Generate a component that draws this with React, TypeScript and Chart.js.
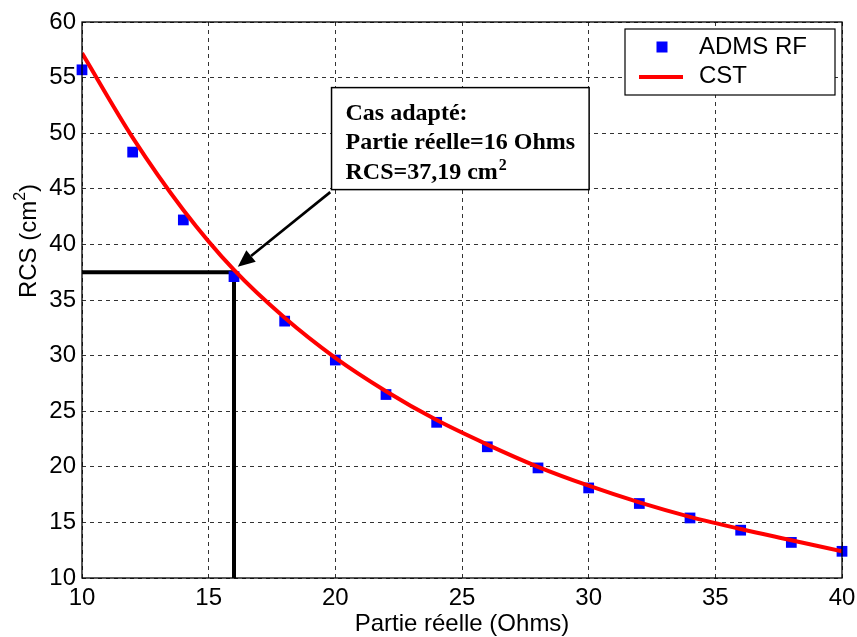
import React, { useEffect, useRef } from "react";
import { Chart, registerables } from "chart.js";

Chart.register(...registerables);

// ---- data ----
const partieReelle = [10, 12, 14, 16, 18, 20, 22, 24, 26, 28, 30, 32, 34, 36, 38, 40];
const admsRF = [55.7, 48.3, 42.2, 37.1, 33.1, 29.6, 26.5, 24.0, 21.8, 19.9, 18.1, 16.7, 15.4, 14.3, 13.2, 12.4];
const cst = [57.2, 49.6, 43.1, 37.7, 33.4, 29.8, 26.8, 24.2, 22.0, 20.0, 18.3, 16.8, 15.5, 14.4, 13.4, 12.4];
const seriesLabels = ["ADMS RF", "CST"];
const xTitle = "Partie réelle (Ohms)";
const yTitleMain = "RCS (cm";
const yTitleSup = "2";
const yTitleEnd = ")";
const xMin = 10, xMax = 40, xStep = 5;
const yMin = 10, yMax = 60, yStep = 5;
// matched case guide lines
const matchedX = 16;
const matchedY = 37.5;
// annotation
const noteLines = ["Cas adapté:", "Partie réelle=16 Ohms", "RCS=37,19 cm"];
const noteSup = "2";
const noteAnchor = { x: 19.85, y: 54.1 };
const arrowFrom = { x: 19.8, y: 44.7 };
const arrowTo = { x: 16.15, y: 38.0 };

const SANS = "'Liberation Sans', Arial, Helvetica, sans-serif";
const SERIF = "'Liberation Serif', 'Times New Roman', serif";

const decorPlugin = {
  id: "decor",
  afterDatasetsDraw(chart: any) {
    const ctx = chart.ctx as CanvasRenderingContext2D;
    const { left, right, top, bottom } = chart.chartArea;
    const xs = chart.scales.x;
    const ys = chart.scales.y;

    // frame
    ctx.save();
    ctx.strokeStyle = "#000";
    ctx.lineWidth = 1.3;
    ctx.setLineDash([]);
    ctx.strokeRect(left, top, right - left, bottom - top);
    ctx.restore();

    // arrow
    const ax0 = xs.getPixelForValue(arrowFrom.x), ay0 = ys.getPixelForValue(arrowFrom.y);
    const ax1 = xs.getPixelForValue(arrowTo.x), ay1 = ys.getPixelForValue(arrowTo.y);
    const ang = Math.atan2(ay1 - ay0, ax1 - ax0);
    const headLen = 17, headW = 7.5;
    const bx = ax1 - headLen * Math.cos(ang), by = ay1 - headLen * Math.sin(ang);
    ctx.save();
    ctx.strokeStyle = "#000";
    ctx.fillStyle = "#000";
    ctx.lineWidth = 2.6;
    ctx.beginPath();
    ctx.moveTo(ax0, ay0);
    ctx.lineTo(bx, by);
    ctx.stroke();
    ctx.beginPath();
    ctx.moveTo(ax1, ay1);
    ctx.lineTo(bx + headW * Math.sin(ang), by - headW * Math.cos(ang));
    ctx.lineTo(bx - headW * Math.sin(ang), by + headW * Math.cos(ang));
    ctx.closePath();
    ctx.fill();
    ctx.restore();

    // annotation box
    const bxl = xs.getPixelForValue(noteAnchor.x);
    const byt = ys.getPixelForValue(noteAnchor.y);
    ctx.save();
    ctx.font = `bold 24px ${SERIF}`;
    const widest = Math.max(...noteLines.map((l) => ctx.measureText(l).width));
    const boxW = widest + 28;
    const boxH = 102;
    ctx.fillStyle = "#fff";
    ctx.fillRect(bxl, byt, boxW, boxH);
    ctx.strokeStyle = "#000";
    ctx.lineWidth = 1.5;
    ctx.strokeRect(bxl, byt, boxW, boxH);
    ctx.fillStyle = "#000";
    ctx.textBaseline = "alphabetic";
    ctx.textAlign = "left";
    noteLines.forEach((l, i) => {
      ctx.fillText(l, bxl + 14, byt + 32 + i * 29.5);
    });
    const lastW = ctx.measureText(noteLines[noteLines.length - 1]).width;
    ctx.font = `bold 16px ${SERIF}`;
    ctx.fillText(noteSup, bxl + 14 + lastW + 1, byt + 32 + 2 * 29.5 - 9);
    ctx.restore();

    // legend
    const lw = 210, lh = 66;
    const lx = right - 7 - lw, ly = top + 7;
    ctx.save();
    ctx.fillStyle = "#fff";
    ctx.fillRect(lx, ly, lw, lh);
    ctx.strokeStyle = "#000";
    ctx.lineWidth = 1.2;
    ctx.strokeRect(lx, ly, lw, lh);
    ctx.fillStyle = "#0000ff";
    ctx.fillRect(lx + 37 - 5.5, ly + 18 - 5.5, 11, 11);
    ctx.strokeStyle = "#ff0000";
    ctx.lineWidth = 4;
    ctx.beginPath();
    ctx.moveTo(lx + 14, ly + 48);
    ctx.lineTo(lx + 58, ly + 48);
    ctx.stroke();
    ctx.fillStyle = "#000";
    ctx.font = `24px ${SANS}`;
    ctx.textBaseline = "middle";
    ctx.textAlign = "left";
    ctx.fillText(seriesLabels[0], lx + 74, ly + 18);
    ctx.fillText(seriesLabels[1], lx + 74, ly + 47);
    ctx.restore();

    // y title (rotated)
    ctx.save();
    ctx.translate(27, 241);
    ctx.rotate(-Math.PI / 2);
    ctx.fillStyle = "#000";
    ctx.font = `24px ${SANS}`;
    const w1 = ctx.measureText(yTitleMain).width;
    const w3 = ctx.measureText(yTitleEnd).width;
    ctx.font = `16px ${SANS}`;
    const w2 = ctx.measureText(yTitleSup).width;
    const total = w1 + w2 + w3;
    let cx = -total / 2;
    ctx.textBaseline = "alphabetic";
    ctx.textAlign = "left";
    ctx.font = `24px ${SANS}`;
    ctx.fillText(yTitleMain, cx, 9);
    cx += w1;
    ctx.font = `16px ${SANS}`;
    ctx.fillText(yTitleSup, cx, -2);
    cx += w2;
    ctx.font = `24px ${SANS}`;
    ctx.fillText(yTitleEnd, cx, 9);
    ctx.restore();
  },
};

export default function App() {
  const ref = useRef<HTMLCanvasElement | null>(null);

  useEffect(() => {
    if (!ref.current) return;
    const chart = new Chart(ref.current, {
      type: "line",
      data: {
        datasets: [
          {
            label: seriesLabels[1],
            data: partieReelle.map((x, i) => ({ x, y: cst[i] })),
            borderColor: "#ff0000",
            borderWidth: 4,
            pointRadius: 0,
            cubicInterpolationMode: "monotone",
            fill: false,
          },
          {
            label: seriesLabels[0],
            data: partieReelle.map((x, i) => ({ x, y: admsRF[i] })),
            showLine: false,
            pointStyle: "rect",
            pointRadius: 7.6,
            pointBackgroundColor: "#0000ff",
            pointBorderColor: "#0000ff",
            pointBorderWidth: 0,
            borderColor: "#0000ff",
            backgroundColor: "#0000ff",
            clip: false,
          },
          {
            label: "guide",
            data: [
              { x: xMin, y: matchedY },
              { x: matchedX, y: matchedY },
              { x: matchedX, y: yMin },
            ],
            borderColor: "#000",
            borderWidth: 4,
            pointRadius: 0,
            tension: 0,
            fill: false,
          },
        ],
      } as any,
      options: {
        animation: false,
        responsive: false,
        maintainAspectRatio: false,
        events: [],
        layout: { padding: { top: 22, right: 15, left: 0, bottom: 0 } },
        plugins: {
          legend: { display: false },
          tooltip: { enabled: false },
        },
        scales: {
          x: {
            type: "linear",
            min: xMin,
            max: xMax,
            afterFit: (s: any) => {
              s.height = 59;
              s.paddingLeft = 0;
              s.paddingRight = 0;
            },
            ticks: {
              stepSize: xStep,
              color: "#000",
              font: { family: SANS, size: 24 },
              padding: 6,
              maxRotation: 0,
            },
            grid: { color: "#333", lineWidth: 1, drawTicks: false },
            border: { display: false, dash: [4, 4] },
            title: {
              display: true,
              text: xTitle,
              color: "#000",
              font: { family: SANS, size: 24, lineHeight: 1 },
              padding: { top: 0, bottom: 1 },
            },
          },
          y: {
            type: "linear",
            min: yMin,
            max: yMax,
            afterFit: (s: any) => {
              s.width = 82;
              s.paddingTop = 0;
              s.paddingBottom = 0;
            },
            ticks: {
              stepSize: yStep,
              color: "#000",
              font: { family: SANS, size: 24 },
              padding: 6,
            },
            grid: { color: "#333", lineWidth: 1, drawTicks: false },
            border: { display: false, dash: [4, 4] },
          },
        },
      } as any,
      plugins: [decorPlugin],
    });
    return () => chart.destroy();
  }, []);

  return (
    <div
      style={{
        position: "fixed",
        left: 0,
        top: 0,
        width: 857,
        height: 637,
        background: "#fff",
      }}
    >
      <canvas ref={ref} width={857} height={637} style={{ width: 857, height: 637, display: "block" }} />
    </div>
  );
}
